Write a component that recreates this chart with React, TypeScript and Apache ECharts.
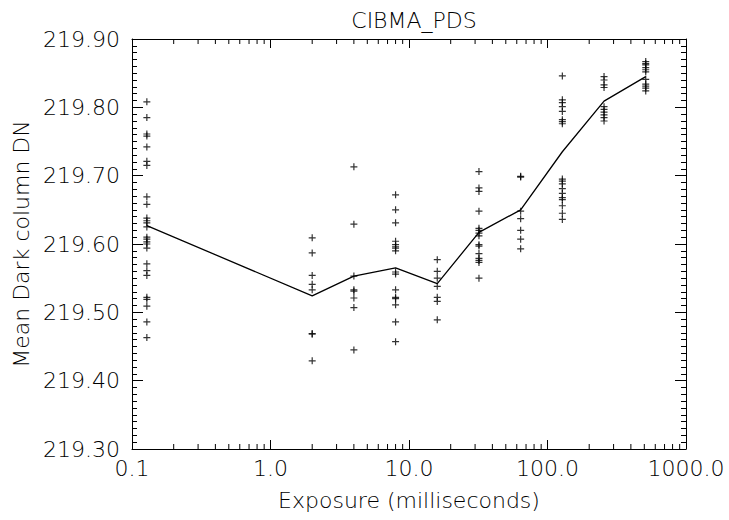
import React, { useEffect, useRef } from "react";
import * as echarts from "echarts";

const TITLE = "CIBMA_PDS";
const X_NAME = "Exposure (milliseconds)";
const Y_NAME = "Mean Dark column DN";

const exposures = [0.128, 2, 4, 8, 16, 32, 64, 128, 256, 512];

const samples: number[][] = [
  [219.808, 219.785, 219.761, 219.758, 219.742, 219.721, 219.715, 219.669, 219.658, 219.638, 219.634, 219.631, 219.625, 219.61, 219.607, 219.603, 219.6, 219.594, 219.571, 219.561, 219.554, 219.522, 219.519, 219.509, 219.486, 219.463],
  [219.609, 219.587, 219.554, 219.541, 219.533, 219.469, 219.468, 219.429],
  [219.713, 219.629, 219.553, 219.533, 219.531, 219.521, 219.507, 219.445],
  [219.672, 219.65, 219.631, 219.604, 219.599, 219.596, 219.594, 219.59, 219.559, 219.556, 219.533, 219.522, 219.52, 219.511, 219.486, 219.457],
  [219.577, 219.56, 219.55, 219.538, 219.522, 219.516, 219.489],
  [219.706, 219.682, 219.677, 219.648, 219.623, 219.62, 219.616, 219.612, 219.599, 219.597, 219.586, 219.579, 219.576, 219.573, 219.55],
  [219.699, 219.698, 219.648, 219.637, 219.62, 219.607, 219.593],
  [219.846, 219.811, 219.807, 219.801, 219.794, 219.782, 219.779, 219.776, 219.695, 219.692, 219.688, 219.681, 219.674, 219.668, 219.665, 219.656, 219.645, 219.636],
  [219.845, 219.84, 219.833, 219.829, 219.801, 219.797, 219.793, 219.789, 219.785, 219.78],
  [219.867, 219.864, 219.862, 219.858, 219.855, 219.852, 219.841, 219.834, 219.831, 219.828, 219.824],
];

const means = [219.627, 219.524, 219.553, 219.565, 219.542, 219.617, 219.65, 219.735, 219.809, 219.845];

const xMinorTicks = [
  0.2, 0.3, 0.4, 0.5, 0.6, 0.7, 0.8, 0.9,
  2, 3, 4, 5, 6, 7, 8, 9,
  20, 30, 40, 50, 60, 70, 80, 90,
  200, 300, 400, 500, 600, 700, 800, 900,
];

const FONT = "DejaVu Sans";
const FS = 22;

export default function App() {
  const ref = useRef<HTMLDivElement>(null);
  useEffect(() => {
    if (!ref.current) return;
    const chart = echarts.init(ref.current, null, { renderer: "svg" });
    const points: number[][] = [];
    exposures.forEach((x, i) => samples[i].forEach((y) => points.push([x, y])));
    const linePts = exposures.map((x, i) => [x, means[i]]);
    const textStyle = { fontFamily: FONT, fontWeight: 200 as any, color: "#000" };
    const axisLine = { show: true, lineStyle: { color: "#000", width: 1 } };
    const yCommon = {
      type: "value" as const,
      min: 219.3,
      max: 219.9,
      interval: 0.1,
      axisLine,
      axisTick: { show: true, inside: true, length: 11, lineStyle: { color: "#000" } },
      minorTick: { show: true, splitNumber: 10, length: 5, lineStyle: { color: "#000" } },
      splitLine: { show: false },
      minorSplitLine: { show: false },
    };
    const xCommon = {
      type: "log" as const,
      logBase: 10,
      min: 0.1,
      max: 1000,
      axisLine,
      axisTick: { show: true, inside: true, length: 9, lineStyle: { color: "#000" } },
      splitLine: { show: false },
    };
    chart.setOption({
      animation: false,
      backgroundColor: "#fff",
      title: {
        text: TITLE,
        left: 409,
        textAlign: "center",
        top: 4,
        textStyle: { ...textStyle, fontSize: FS, fontWeight: 200 as any },
      },
      grid: { left: 132, right: 43, top: 39, bottom: 71 },
      xAxis: [
        {
          ...xCommon,
          position: "bottom",
          name: X_NAME,
          nameLocation: "middle",
          nameGap: 40,
          nameTextStyle: { ...textStyle, fontSize: FS },
          axisLabel: {
            ...textStyle,
            fontSize: FS,
            margin: 8,
            formatter: (v: number) => v.toFixed(1),
          },
        },
        { ...xCommon, position: "top", axisLabel: { show: false } },
      ],
      yAxis: [
        {
          ...yCommon,
          position: "left",
          name: Y_NAME,
          nameLocation: "middle",
          nameGap: 98,
          nameTextStyle: { ...textStyle, fontSize: FS },
          axisLabel: {
            ...textStyle,
            fontSize: FS,
            margin: 12,
            formatter: (v: number) => v.toFixed(2),
          },
        },
        { ...yCommon, position: "right", axisLabel: { show: false } },
      ],
      series: [
        {
          type: "scatter",
          data: points,
          symbol: "path://M5,0L5,10M0,5L10,5",
          symbolSize: 7,
          itemStyle: { color: "#000", borderColor: "#000", borderWidth: 1.2 },
          z: 3,
        },
        {
          type: "line",
          data: linePts,
          symbol: "none",
          lineStyle: { color: "#000", width: 1.3 },
          z: 2,
        },
        {
          type: "custom",
          data: xMinorTicks.map((v) => [v, 219.3]),
          silent: true,
          renderItem: (params: any, api: any) => {
            const p = api.coord([api.value(0), 219.3]);
            const cs = params.coordSys;
            const top = cs.y;
            const bottom = cs.y + cs.height;
            return {
              type: "group",
              children: [
                { type: "line", shape: { x1: p[0], y1: bottom, x2: p[0], y2: bottom - 5 }, style: { stroke: "#000", lineWidth: 1 } },
                { type: "line", shape: { x1: p[0], y1: top, x2: p[0], y2: top + 5 }, style: { stroke: "#000", lineWidth: 1 } },
              ],
            };
          },
          z: 1,
        },
      ],
    });
    return () => chart.dispose();
  }, []);
  return <div ref={ref} style={{ position: "fixed", left: 0, top: 0, width: 729, height: 520 }} />;
}
